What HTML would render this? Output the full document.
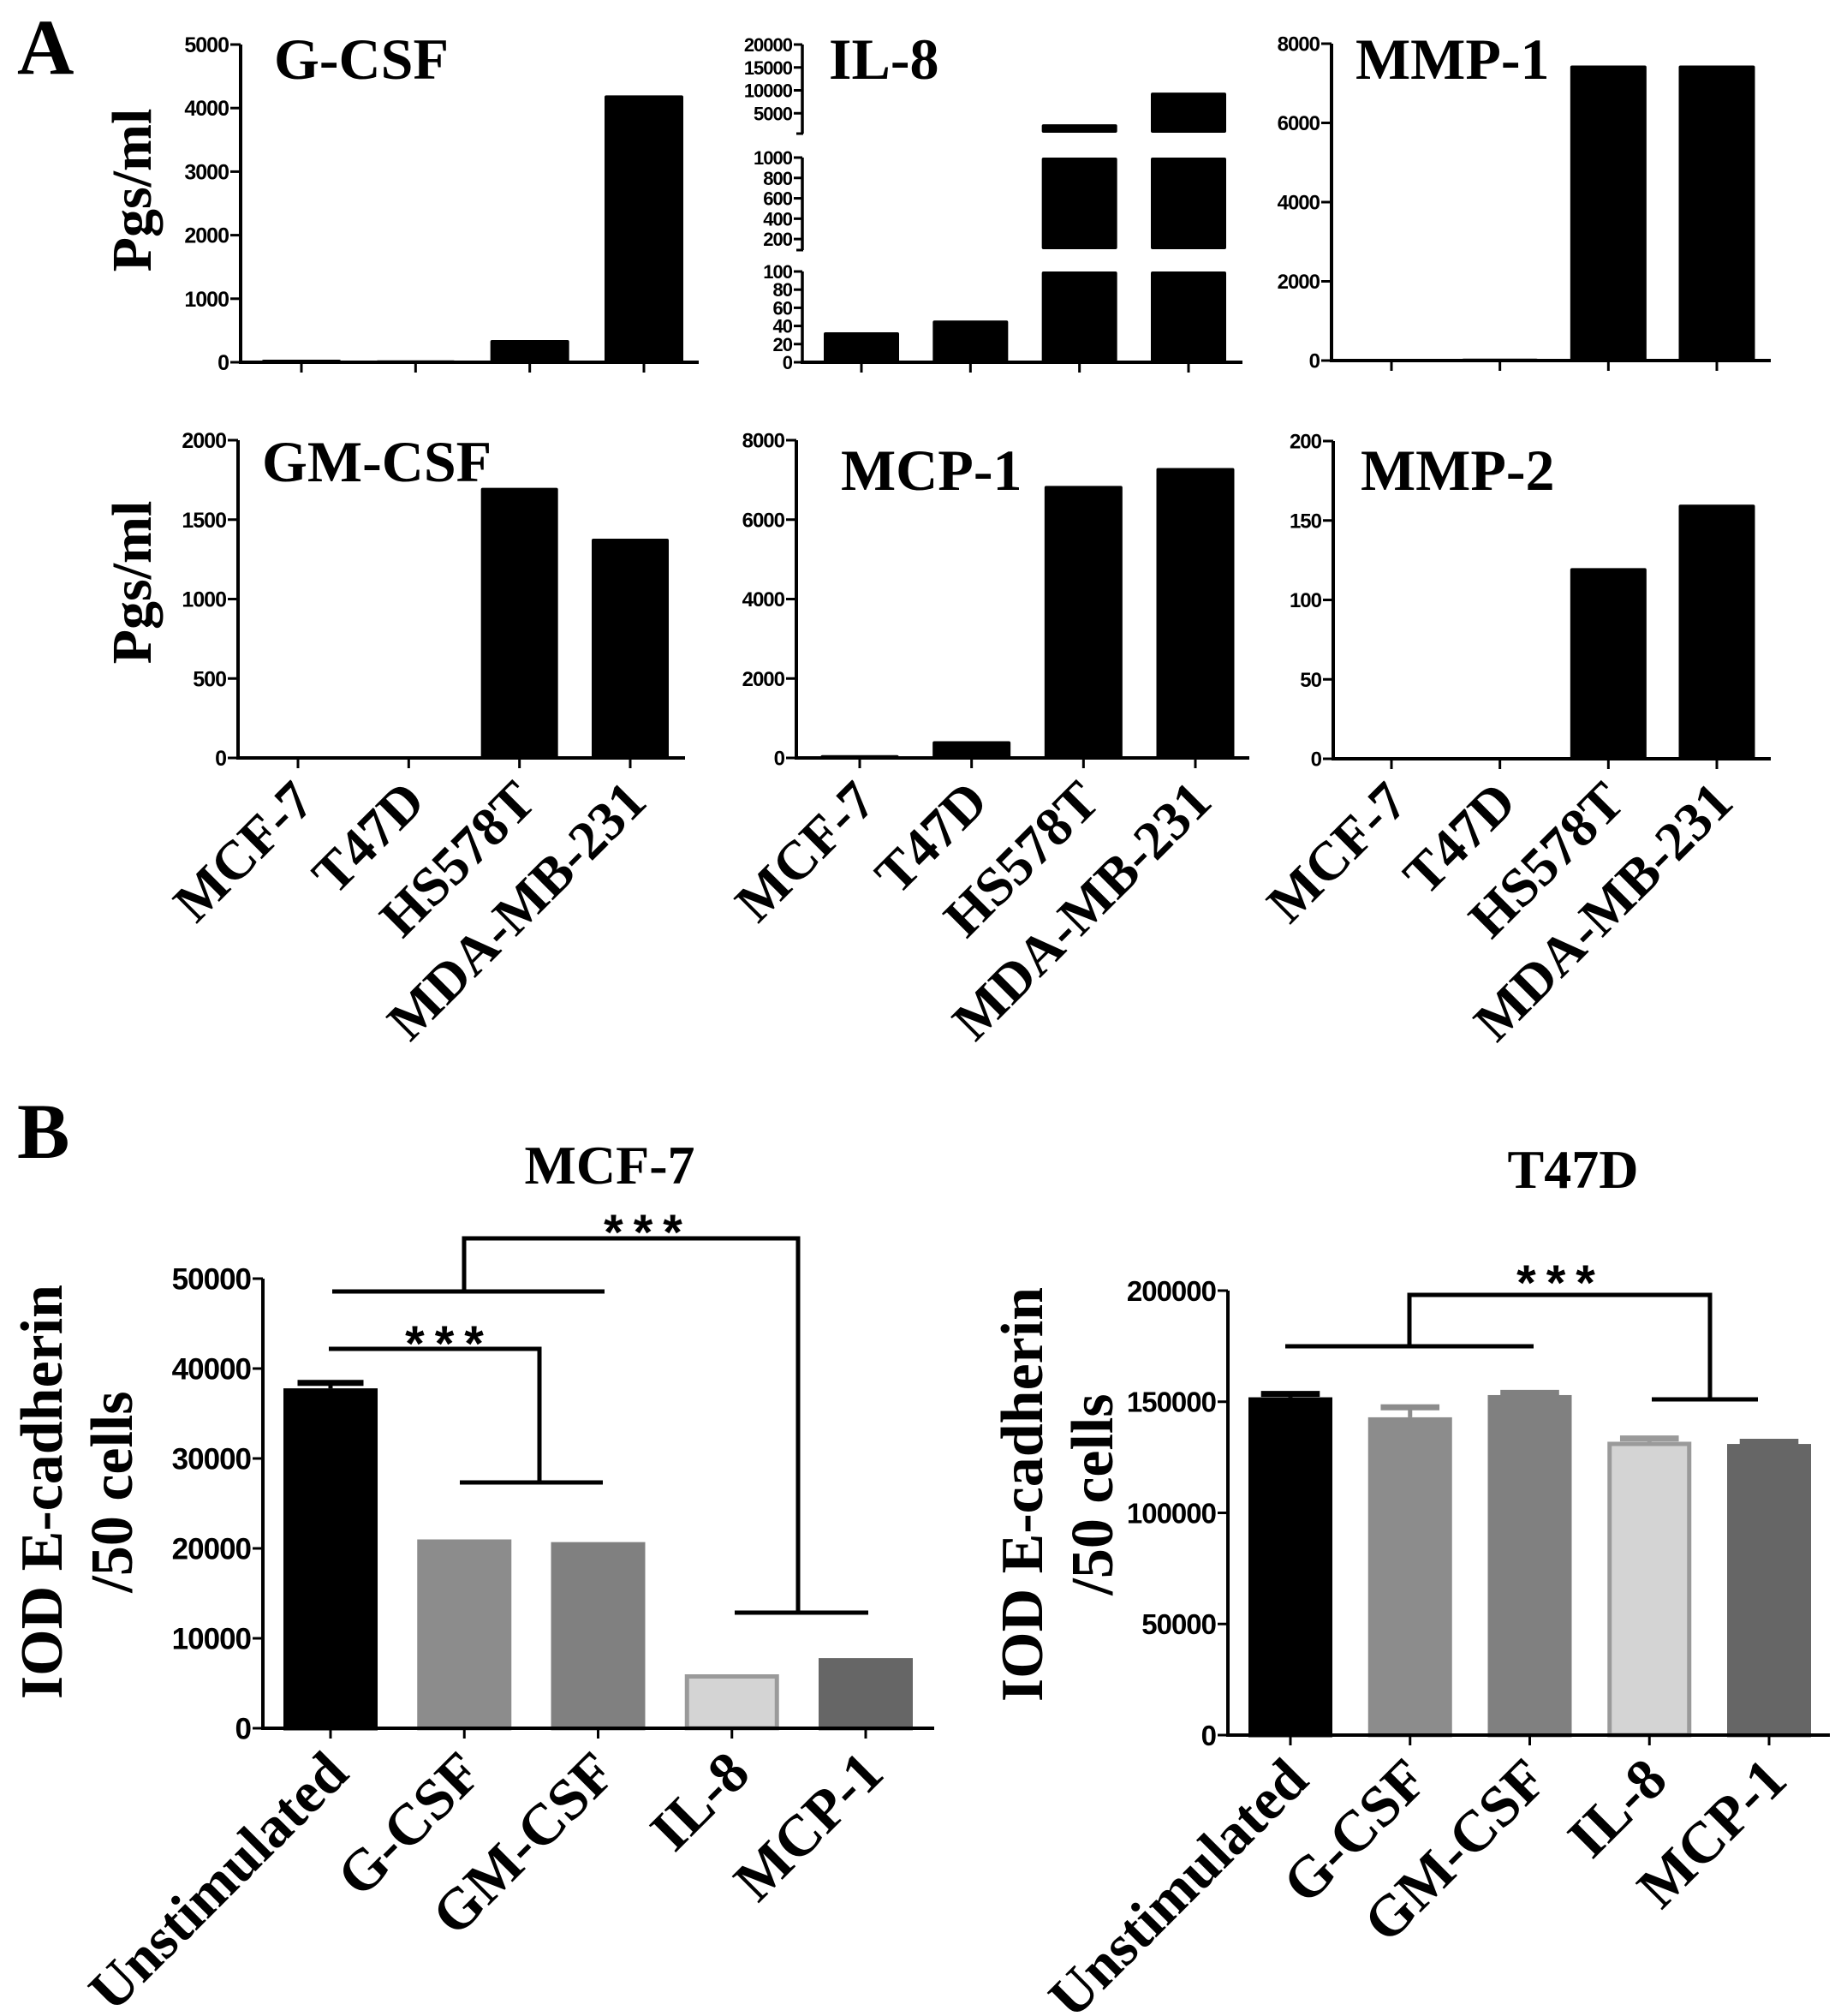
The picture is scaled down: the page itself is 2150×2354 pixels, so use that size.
<!DOCTYPE html>
<html><head><meta charset="utf-8"><style>
html,body{margin:0;padding:0;background:#fff;}
svg{display:block;}
.tk{font-family:"Liberation Sans",Arial,sans-serif;font-weight:bold;}
.sr{font-family:"Liberation Serif","Times New Roman",serif;font-weight:bold;}
</style></head><body>
<svg id="fig" width="2150" height="2354" viewBox="0 0 2150 2354" xmlns="http://www.w3.org/2000/svg">
<text class="sr" x="20" y="86" font-size="92">A</text>
<text class="sr" x="20" y="1352" font-size="92">B</text>
<text class="sr" font-size="66" text-anchor="middle" transform="translate(176,222) rotate(-90)">Pgs/ml</text>
<text class="sr" font-size="66" text-anchor="middle" transform="translate(176,680) rotate(-90)">Pgs/ml</text>
</svg>
<script>
// ---- data ----
const cellLines = ["MCF-7","T47D","HS578T","MDA-MB-231"];
const gcsfValues = [40, 30, 350, 4200];
const gcsfTicks = [0,1000,2000,3000,4000,5000];
const il8Values = [33, 46, 2600, 9500];
const il8TicksLow = [0,20,40,60,80,100];
const il8TicksMid = [200,400,600,800,1000];
const il8TicksHigh = [5000,10000,15000,20000];
const mmp1Values = [10, 50, 7450, 7450];
const mmp1Ticks = [0,2000,4000,6000,8000];
const gmcsfValues = [10, 10, 1700, 1380];
const gmcsfTicks = [0,500,1000,1500,2000];
const mcp1Values = [70, 420, 6850, 7300];
const mcp1Ticks = [0,2000,4000,6000,8000];
const mmp2Values = [0, 0, 120, 160];
const mmp2Ticks = [0,50,100,150,200];
const treatments = ["Unstimulated","G-CSF","GM-CSF","IL-8","MCP-1"];
const mcf7Values = [37800, 21000, 20700, 6000, 7800];
const mcf7Errors = [600, 0, 0, 0, 0];
const mcf7Ticks = [0,10000,20000,30000,40000,50000];
const t47dValues = [152000, 143000, 153000, 132000, 131000];
const t47dErrors = [1500, 4500, 1000, 1500, 1000];
const t47dTicks = [0,50000,100000,150000,200000];
const bFill = ["#000000","#8c8c8c","#808080","#d4d4d4","#666666"];
const bStroke = ["#000000","#8c8c8c","#808080","#9a9a9a","#666666"];

const NS="http://www.w3.org/2000/svg";
const svg=document.getElementById('fig');
function mk(tag,attrs,parent){const e=document.createElementNS(NS,tag);for(const k in attrs)e.setAttribute(k,attrs[k]);(parent||svg).appendChild(e);return e;}
function txt(s,attrs,parent){const e=mk('text',attrs,parent);e.textContent=s;return e;}

function yAxis(g,ax,sc,ticks,fs,name){
  const l=mk('line',{x1:ax,x2:ax,y1:sc(ticks[0])+2,y2:sc(ticks[ticks.length-1]),stroke:'#000','stroke-width':4},g);
  
  
  ticks.forEach(t=>{
    const y=sc(t);
    const tl=mk('line',{x1:ax-12,x2:ax,y1:y,y2:y,stroke:'#000','stroke-width':3},g);
    
    
    const tt=txt(String(t),{class:'tk',x:ax-14,y:y+fs*0.36,'font-size':fs,'text-anchor':'end','letter-spacing':-1},g);
    
    
  });
}
function xAxis(g,ax,xEnd,y0,xs,cats,fs,name,lab){
  const l=mk('line',{x1:ax-2,x2:xEnd,y1:y0,y2:y0,stroke:'#000','stroke-width':4},g);
  
  
  xs.forEach((x,i)=>{
    const tl=mk('line',{x1:x,x2:x,y1:y0,y2:y0+12,stroke:'#000','stroke-width':3},g);
    
    
    if(lab){
      const t=txt(cats[i],{class:'sr','font-size':fs,'text-anchor':'end',transform:`translate(${x-8},${y0+24}) rotate(-45)`,dy:'0.66em'},g);
      
      
    }
  });
}
function simpleChart(o){
  const g=mk('g',{});
  
  
  const ticks=o.ticks;
  const sc=v=>o.y0+(v-ticks[0])*(o.yTop-o.y0)/(ticks[ticks.length-1]-ticks[0]);
  const xs=o.cats.map((c,i)=>o.x0+i*(o.x1-o.x0)/(o.cats.length-1));
  o.values.forEach((v,i)=>{
    const y=sc(v);
    const r=mk('rect',{x:xs[i]-o.bw/2,y:Math.min(y,o.y0-2),width:o.bw,height:Math.max(o.y0-y,2),fill:'#000',rx:2},g);
    
    
  });
  yAxis(g,o.ax,sc,ticks,o.fs,o.name);
  xAxis(g,o.ax,o.xEnd,o.y0,xs,o.cats,64,o.name,o.labels);
  const t=txt(o.title,{class:'sr',x:o.tx,y:o.ty,'font-size':68},g);
  
  
}
simpleChart({name:'g-csf',title:'G-CSF',cats:cellLines,values:gcsfValues,ticks:gcsfTicks,ax:281,xEnd:816,x0:352,x1:752,bw:92,y0:423,yTop:52,fs:25,tx:320,ty:92,labels:false});
simpleChart({name:'mmp-1',title:'MMP-1',cats:cellLines,values:mmp1Values,ticks:mmp1Ticks,ax:1555,xEnd:2068,x0:1625,x1:2005,bw:89,y0:421,yTop:51,fs:24,tx:1583,ty:92,labels:false});
simpleChart({name:'gm-csf',title:'GM-CSF',cats:cellLines,values:gmcsfValues,ticks:gmcsfTicks,ax:278,xEnd:800,x0:348,x1:736,bw:90,y0:885,yTop:514,fs:25,tx:306,ty:562,labels:true});
simpleChart({name:'mcp-1',title:'MCP-1',cats:cellLines,values:mcp1Values,ticks:mcp1Ticks,ax:930,xEnd:1459,x0:1004,x1:1396,bw:91,y0:885,yTop:514,fs:24,tx:982,ty:572,labels:true});
simpleChart({name:'mmp-2',title:'MMP-2',cats:cellLines,values:mmp2Values,ticks:mmp2Ticks,ax:1557,xEnd:2068,x0:1625,x1:2005,bw:89,y0:886,yTop:515,fs:24,tx:1589,ty:572,labels:true});

// IL-8 broken axis chart
(function(){
  const g=mk('g',{});
  
  
  const ax=937, y0=423;
  const segs=[
    {lo:0,hi:100,yl:423,yh:317,ticks:il8TicksLow,bot:423},
    {lo:100,hi:1000,yl:291,yh:184,ticks:il8TicksMid,bot:292},
    {lo:750,hi:20000,yl:155,yh:52,ticks:il8TicksHigh,bot:156}
  ];
  const xs=cellLines.map((c,i)=>1006+i*(1388-1006)/3);
  segs.forEach((s,si)=>{
    const sc=v=>s.yl+(v-s.lo)*(s.yh-s.yl)/(s.hi-s.lo);
    il8Values.forEach((v,i)=>{
      if(v<=s.lo) return;
      const top=sc(Math.min(v,s.hi)), bot=s.yl;
      const r=mk('rect',{x:xs[i]-44,y:top,width:88,height:Math.max(bot-top,2),fill:'#000',rx:2},g);
      
      
    });
    const l=mk('line',{x1:ax,x2:ax,y1:s.bot,y2:s.yh,stroke:'#000','stroke-width':3.5},g);
    
    
    if(si>0){const b=mk('line',{x1:ax-7,x2:ax+1,y1:s.bot,y2:s.bot,stroke:'#000','stroke-width':3},g);
      
      }
    s.ticks.forEach(t=>{
      const y=sc(t);
      const tl=mk('line',{x1:ax-10,x2:ax,y1:y,y2:y,stroke:'#000','stroke-width':3},g);
      
      
      const tt=txt(String(t),{class:'tk',x:ax-12,y:y+8,'font-size':22,'text-anchor':'end','letter-spacing':-1},g);
      
      
    });
  });
  xAxis(g,ax,1451,y0,xs,cellLines,64,'il-8',false);
  const t=txt('IL-8',{class:'sr',x:968,y:92,'font-size':68},g);
  
  
})();

function bChart(o){
  const g=mk('g',{});
  
  
  const ticks=o.ticks;
  const sc=v=>o.y0+(v-ticks[0])*(o.yTop-o.y0)/(ticks[ticks.length-1]-ticks[0]);
  const xs=o.cats.map((c,i)=>o.x0+i*(o.x1-o.x0)/(o.cats.length-1));
  o.values.forEach((v,i)=>{
    const y=sc(v);
    if(o.errors[i]>0){
      const ye=sc(v+o.errors[i]);
      const e=mk('line',{x1:xs[i],x2:xs[i],y1:y,y2:ye,stroke:bStroke[i],'stroke-width':5},g);
      
      
      const c=mk('line',{x1:xs[i]-o.bw*0.35,x2:xs[i]+o.bw*0.35,y1:ye,y2:ye,stroke:bStroke[i],'stroke-width':7},g);
      
      
    }
    const r=mk('rect',{x:xs[i]-o.bw/2+2.5,y:y+2.5,width:o.bw-5,height:o.y0-y-2.5,fill:bFill[i],stroke:bStroke[i],'stroke-width':5},g);
    
    
  });
  yAxis(g,o.ax,sc,ticks,o.fs,o.name);
  xAxis(g,o.ax,o.xEnd,o.y0,xs,o.cats,68,o.name,true);
  const t=txt(o.title,{class:'sr',x:o.tx,y:o.ty,'font-size':64,'text-anchor':'middle'},g);
  
  
  const y1=txt('IOD E-cadherin',{class:'sr','font-size':70,'text-anchor':'middle',transform:`translate(${o.ylx},${o.yly}) rotate(-90)`},g);
  
  
  const y2=txt('/50 cells',{class:'sr','font-size':70,'text-anchor':'middle',transform:`translate(${o.ylx+82},${o.yly}) rotate(-90)`},g);
  
  
  o.brackets.forEach(b=>{
    const p=mk('path',{d:b.d,fill:'none',stroke:'#000','stroke-width':5},g);
    
    
  });
  o.stars.forEach(s=>{
    const t=txt('***',{class:'tk',x:s[0]+6,y:s[1]+32,'font-size':58,'text-anchor':'middle','letter-spacing':12},g);
    
    
  });
}
bChart({name:'mcf-7',title:'MCF-7',cats:treatments,values:mcf7Values,errors:mcf7Errors,ticks:mcf7Ticks,ax:307,xEnd:1091,x0:386,x1:1011,bw:110,y0:2018,yTop:1493,fs:35,tx:712,ty:1382,ylx:72,yly:1742,
  brackets:[{d:'M388 1508 H706 M542 1508 V1446 H932 V1883 M858 1883 H1014'},{d:'M384 1575 H630 V1731 M537 1731 H704'}],
  stars:[[751,1427],[519,1557]]});
bChart({name:'t47d',title:'T47D',cats:treatments,values:t47dValues,errors:t47dErrors,ticks:t47dTicks,ax:1434,xEnd:2137,x0:1507,x1:2066,bw:98,y0:2026,yTop:1507,fs:33,tx:1837,ty:1387,ylx:1217,yly:1745,
  brackets:[{d:'M1501 1572 H1791 M1646 1572 V1512 H1997 V1634 M1929 1634 H2053'}],
  stars:[[1817,1486]]});
</script>
</body></html>
